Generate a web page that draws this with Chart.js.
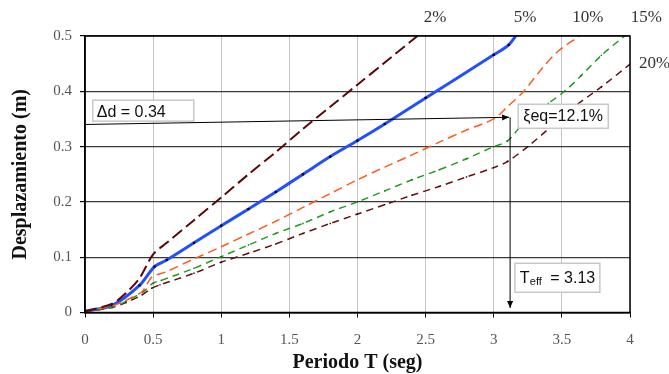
<!DOCTYPE html>
<html>
<head>
<meta charset="utf-8">
<script src="https://cdn.jsdelivr.net/npm/chart.js@4.4.0/dist/chart.umd.min.js"></script>
<style>
  html, body { margin: 0; padding: 0; background: #fff; }
  #wrap { width: 669px; height: 374px; }
</style>
</head>
<body>
<div id="wrap"><canvas id="chart" width="669" height="374"></canvas></div>
<script>
// Displacement spectra, one period / displacement pair per damping ratio
const period2 = [0, 0.2, 0.3, 0.4, 0.5, 0.6, 0.8, 1.0, 1.2, 1.4, 1.6, 1.8, 2.0, 2.2, 2.44];
const disp2 = [0.002, 0.016, 0.035, 0.062, 0.105, 0.126, 0.167, 0.208, 0.25, 0.29, 0.332, 0.372, 0.412, 0.452, 0.5];

const period5 = [0, 0.2, 0.4, 0.51, 0.6, 0.8, 1.0, 1.2, 1.4, 1.6, 1.8, 2.0, 2.2, 2.5, 3.0, 3.11, 3.2];
const disp5 = [0.002, 0.013, 0.049, 0.083, 0.095, 0.126, 0.157, 0.187, 0.218, 0.25, 0.282, 0.311, 0.341, 0.388, 0.466, 0.484, 0.514];

const period10 = [0, 0.2, 0.3, 0.42, 0.49, 0.6, 0.8, 1.0, 1.2, 1.4, 1.6, 1.8, 2.0, 2.2, 2.4, 2.6, 2.8, 3.0, 3.1, 3.22, 3.35, 3.47, 3.63];
const disp10 = [0.002, 0.012, 0.022, 0.038, 0.064, 0.074, 0.097, 0.119, 0.142, 0.165, 0.19, 0.215, 0.24, 0.263, 0.285, 0.308, 0.33, 0.35, 0.372, 0.40, 0.44, 0.472, 0.5];

const period15 = [0, 0.2, 0.3, 0.43, 0.5, 0.56, 0.8, 1.0, 1.2, 1.4, 1.6, 1.8, 2.0, 2.2, 2.4, 2.6, 2.8, 3.0, 3.1, 3.25, 3.4, 3.52, 3.64, 3.79, 3.96];
const disp15 = [0.002, 0.01, 0.02, 0.038, 0.053, 0.058, 0.08, 0.101, 0.122, 0.143, 0.161, 0.182, 0.2, 0.22, 0.24, 0.258, 0.278, 0.30, 0.31, 0.352, 0.378, 0.40, 0.428, 0.465, 0.5];

const period20 = [0, 0.2, 0.3, 0.42, 0.49, 0.55, 0.8, 1.0, 1.2, 1.4, 1.6, 1.8, 2.0, 2.2, 2.4, 2.6, 2.8, 3.0, 3.1, 3.25, 3.42, 3.59, 3.79, 4.0];
const disp20 = [0.002, 0.009, 0.018, 0.032, 0.044, 0.05, 0.071, 0.091, 0.107, 0.124, 0.143, 0.161, 0.178, 0.195, 0.212, 0.228, 0.245, 0.262, 0.273, 0.30, 0.336, 0.372, 0.408, 0.449];

const dampingLabels = ['2%', '5%', '10%', '15%', '20%'];

// performance point
const deltaD = 0.34;
const dispAtArrow = 0.353;
const tEff = 3.12;
const xiEq = '12.1%';

function toPoints(ts, ds) {
  return ts.map((t, i) => ({ x: t, y: ds[i] }));
}

function arrow(ctx, x1, y1, x2, y2) {
  ctx.beginPath();
  ctx.moveTo(x1, y1);
  ctx.lineTo(x2, y2);
  ctx.stroke();
  const ang = Math.atan2(y2 - y1, x2 - x1), L = 7, W = 3;
  ctx.beginPath();
  ctx.moveTo(x2, y2);
  ctx.lineTo(x2 - L * Math.cos(ang) + W * Math.sin(ang), y2 - L * Math.sin(ang) - W * Math.cos(ang));
  ctx.lineTo(x2 - L * Math.cos(ang) - W * Math.sin(ang), y2 - L * Math.sin(ang) + W * Math.cos(ang));
  ctx.closePath();
  ctx.fill();
}

function box(ctx, px, py, w, h) {
  ctx.fillStyle = '#fff';
  ctx.fillRect(px, py, w, h);
  ctx.strokeStyle = '#c8c8c8';
  ctx.lineWidth = 1.5;
  ctx.strokeRect(px, py, w, h);
}

const overlay = {
  id: 'overlay',
  afterDatasetsDraw(chart) {
    const { ctx, chartArea: a, scales: { x, y } } = chart;
    ctx.save();

    // plot frame
    ctx.strokeStyle = '#000';
    ctx.lineWidth = 1.5;
    ctx.strokeRect(a.left, a.top, a.right - a.left, a.bottom - a.top);

    // arrows to the performance point
    ctx.lineWidth = 1;
    ctx.fillStyle = '#000';
    arrow(ctx, x.getPixelForValue(0), y.getPixelForValue(deltaD), x.getPixelForValue(tEff) - 1, y.getPixelForValue(dispAtArrow));
    arrow(ctx, x.getPixelForValue(tEff), y.getPixelForValue(dispAtArrow), x.getPixelForValue(tEff), y.getPixelForValue(0.008));

    // text boxes
    ctx.textBaseline = 'middle';
    ctx.textAlign = 'left';
    let bx = x.getPixelForValue(0.057), by = y.getPixelForValue(0.384);
    box(ctx, bx, by, 101, 21);
    ctx.fillStyle = '#111';
    ctx.font = '16px "Liberation Sans", Arial, sans-serif';
    ctx.fillText('\u0394d = ' + deltaD.toFixed(2), bx + 4, by + 12);

    bx = x.getPixelForValue(3.18); by = y.getPixelForValue(0.3765);
    box(ctx, bx, by, 90, 24);
    ctx.fillStyle = '#111';
    ctx.fillText('\u03beeq=' + xiEq, bx + 5, by + 12.5);

    bx = x.getPixelForValue(3.155); by = y.getPixelForValue(0.089);
    box(ctx, bx, by, 85, 29);
    ctx.fillStyle = '#111';
    ctx.font = '16px "Liberation Sans", Arial, sans-serif';
    ctx.fillText('T', bx + 5, by + 15);
    ctx.font = '11px "Liberation Sans", Arial, sans-serif';
    ctx.fillText('eff', bx + 15, by + 19);
    ctx.font = '16px "Liberation Sans", Arial, sans-serif';
    ctx.fillText(' = 3.13', bx + 31, by + 15);

    // damping labels at the curve ends
    ctx.font = '17px "Liberation Serif", "Times New Roman", serif';
    ctx.fillStyle = '#333';
    ctx.textAlign = 'center';
    const labelTop = y.getPixelForValue(0.534);
    ctx.fillText(dampingLabels[0], x.getPixelForValue(2.57), labelTop);
    ctx.fillText(dampingLabels[1], x.getPixelForValue(3.23), labelTop);
    ctx.fillText(dampingLabels[2], x.getPixelForValue(3.69), labelTop);
    ctx.fillText(dampingLabels[3], x.getPixelForValue(4.12), labelTop);
    ctx.textAlign = 'left';
    ctx.fillText(dampingLabels[4], x.getPixelForValue(4.066), y.getPixelForValue(0.45));

    ctx.restore();
  }
};

const serif = '"Liberation Serif", "Times New Roman", serif';

new Chart(document.getElementById('chart').getContext('2d'), {
  type: 'line',
  data: {
    datasets: [
      {
        label: dampingLabels[0],
        data: toPoints(period2, disp2),
        borderColor: '#5c0808',
        backgroundColor: '#5c0808',
        borderWidth: 2,
        borderDash: [12, 5],
        pointRadius: 0,
        tension: 0.3,
      },
      {
        label: dampingLabels[2],
        data: toPoints(period10, disp10),
        borderColor: '#ff5a1e',
        backgroundColor: '#ff5a1e',
        borderWidth: 1.5,
        borderDash: [9, 5],
        pointRadius: 0,
        tension: 0.3,
      },
      {
        label: dampingLabels[3],
        data: toPoints(period15, disp15),
        borderColor: '#1f9e1f',
        backgroundColor: '#0f700f',
        borderWidth: 1.5,
        borderDash: [7, 5],
        pointRadius: 1,
        pointBorderWidth: 0,
        pointStyle: 'rect',
        tension: 0.3,
      },
      {
        label: dampingLabels[4],
        data: toPoints(period20, disp20),
        borderColor: '#641010',
        backgroundColor: '#400000',
        borderWidth: 1.5,
        borderDash: [7, 5],
        pointRadius: 1,
        pointBorderWidth: 0,
        pointStyle: 'rect',
        tension: 0.3,
      },
      {
        label: dampingLabels[1],
        data: toPoints(period5, disp5),
        borderColor: '#2250ff',
        backgroundColor: '#000',
        borderWidth: 3,
        pointRadius: 1.6,
        pointBorderWidth: 0,
        pointStyle: 'rect',
        tension: 0.3,
      },
    ],
  },
  options: {
    responsive: false,
    animation: false,
    devicePixelRatio: 1,
    layout: { padding: { top: 36, right: 39, left: 0, bottom: 0 } },
    plugins: {
      legend: { display: false },
      tooltip: { enabled: false },
    },
    scales: {
      x: {
        type: 'linear',
        min: 0,
        max: 4,
        ticks: {
          stepSize: 0.5,
          color: '#555',
          padding: 14,
          font: { family: serif, size: 15 },
          callback: (v) => String(v),
        },
        grid: { color: '#c4c4c4', lineWidth: 1, tickColor: '#000', tickLength: 5 },
        border: { color: '#000', width: 1.5 },
        title: {
          display: true,
          text: 'Periodo T (seg)',
          color: '#111',
          font: { family: serif, size: 20, weight: 'bold', lineHeight: 1.15 },
          padding: { top: 0, bottom: 0 },
        },
        afterFit(scale) { scale.height = 61.5; },
      },
      y: {
        min: 0,
        max: 0.5,
        ticks: {
          stepSize: 0.1,
          color: '#555',
          padding: 8,
          font: { family: serif, size: 15 },
          callback: (v) => String(v),
        },
        grid: { color: '#3a3a3a', lineWidth: 1.2, tickColor: '#000', tickLength: 5 },
        border: { color: '#000', width: 1.5 },
        title: {
          display: true,
          text: 'Desplazamiento (m)',
          color: '#111',
          font: { family: serif, size: 20, weight: 'bold' },
          padding: { top: 9, bottom: 0 },
        },
        afterFit(scale) { scale.width = 85; },
      },
    },
  },
  plugins: [overlay],
});
</script>
</body>
</html>
